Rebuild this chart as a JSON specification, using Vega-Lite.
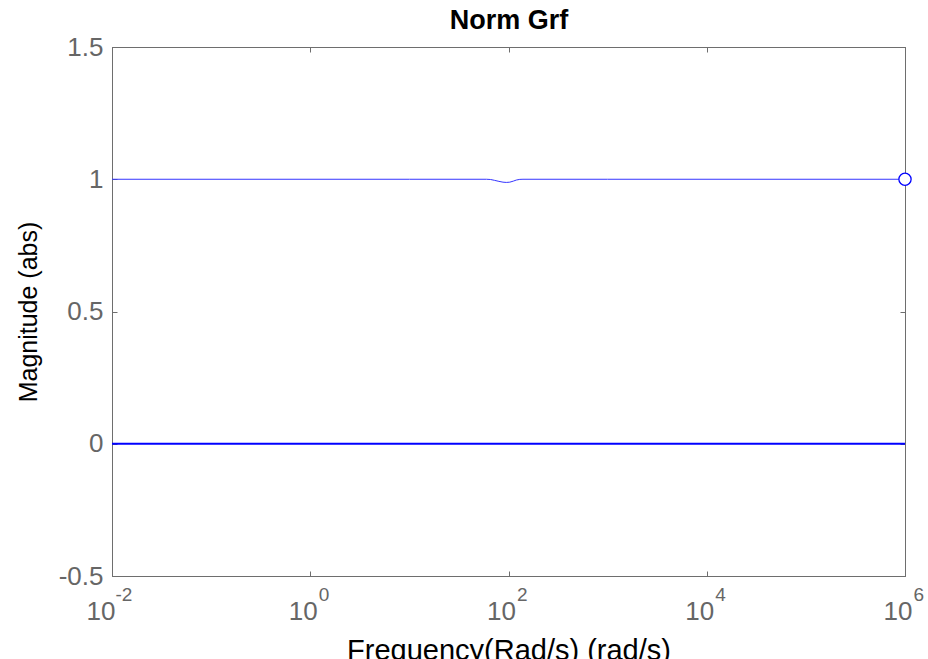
{
  "$schema": "https://vega.github.io/schema/vega-lite/v6.json",
  "autosize": "none",
  "width": 793,
  "height": 529,
  "padding": {"left": 112, "top": 47, "right": 23, "bottom": 83},
  "background": "white",
  "config": {
    "font": "Liberation Sans",
    "view": {"stroke": "#6e6e6e", "strokeWidth": 1},
    "axis": {"grid": false, "domainColor": "#6e6e6e", "tickColor": "#6e6e6e", "labelColor": "#666666", "titleColor": "#000000", "titleFontWeight": "normal", "labelFont": "Liberation Sans", "titleFont": "Liberation Sans"}
  },
  "datasets": {
    "one": [
      {"f": 0.01, "v": 1},
      {"f": 10, "v": 1},
      {"f": 60, "v": 1},
      {"f": 66, "v": 0.999},
      {"f": 72, "v": 0.996},
      {"f": 80, "v": 0.992},
      {"f": 88, "v": 0.989},
      {"f": 95, "v": 0.988},
      {"f": 103, "v": 0.989},
      {"f": 112, "v": 0.993},
      {"f": 120, "v": 0.997},
      {"f": 130, "v": 0.9995},
      {"f": 140, "v": 1},
      {"f": 1000, "v": 1},
      {"f": 1000000, "v": 1}
    ],
    "zero": [
      {"f": 0.01, "v": 0},
      {"f": 1000000, "v": 0}
    ],
    "end": [
      {"f": 1000000, "v": 1}
    ]
  },
  "layer": [
    {
      "data": {"name": "zero"},
      "mark": {"type": "line", "color": "#0000ff", "strokeWidth": 2.2},
      "encoding": {
        "x": {"field": "f", "type": "quantitative", "scale": {"type": "log", "domain": [0.01, 1000000], "nice": false},
          "axis": {"orient": "bottom", "values": [0.01, 1, 100, 10000, 1000000], "labelExpr": "'10'", "labelAlign": "right",
            "labelOffset": {"condition": {"test": "datum.value < 0.1", "value": 3}, "value": 7},
            "labelFontSize": 26, "labelPadding": 27, "labelBaseline": "top", "tickSize": -5, "labelFlush": false, "labelOverlap": false,
            "title": "Frequency(Rad/s) (rad/s)", "titleFontSize": 29, "titlePadding": 12}},
        "y": {"field": "v", "type": "quantitative", "scale": {"domain": [-0.5, 1.5], "nice": false, "zero": false},
          "axis": {"orient": "left", "values": [-0.5, 0, 0.5, 1, 1.5], "labelExpr": "toString(datum.value)", "labelFontSize": 26, "labelPadding": 14, "tickSize": -5, "labelFlush": false, "labelOverlap": false,
            "title": "Magnitude (abs)", "titleFontSize": 25, "titlePadding": 17}}
      }
    },
    {
      "data": {"name": "one"},
      "mark": {"type": "line", "color": "#3535ff", "strokeWidth": 1},
      "encoding": {
        "x": {"field": "f", "type": "quantitative", "scale": {"type": "log", "domain": [0.01, 1000000], "nice": false},
          "axis": {"orient": "bottom", "values": [0.01, 1, 100, 10000, 1000000], "labelExpr": "toString(round(log(datum.value)/LN10))", "labelAlign": "left",
            "labelOffset": {"condition": {"test": "datum.value < 0.1", "value": 3}, "value": 8},
            "labelFontSize": 19, "labelPadding": 9, "labelBaseline": "top", "ticks": false, "domain": false, "labelFlush": false, "labelOverlap": false, "title": null}},
        "y": {"field": "v", "type": "quantitative", "scale": {"domain": [-0.5, 1.5], "nice": false, "zero": false},
          "axis": {"orient": "right", "values": [-0.5, 0, 0.5, 1, 1.5], "labels": false, "tickSize": -5, "title": null}}
      }
    },
    {
      "data": {"name": "end"},
      "mark": {"type": "point", "shape": "circle", "filled": true, "fill": "#ffffff", "stroke": "#0000ff", "strokeWidth": 1.3, "size": 150, "opacity": 1},
      "encoding": {
        "x": {"field": "f", "type": "quantitative", "scale": {"type": "log", "domain": [0.01, 1000000], "nice": false},
          "axis": {"orient": "top", "values": [0.01, 1, 100, 10000, 1000000], "labels": false, "tickSize": -5,
            "title": "Norm Grf", "titleFontSize": 27, "titleFontWeight": "bold", "titleColor": "#000000", "titleBaseline": "bottom", "titlePadding": 12}},
        "y": {"field": "v", "type": "quantitative", "scale": {"domain": [-0.5, 1.5], "nice": false, "zero": false}, "axis": null}
      }
    }
  ],
  "resolve": {"scale": {"x": "shared", "y": "shared"}, "axis": {"x": "independent", "y": "independent"}}
}
